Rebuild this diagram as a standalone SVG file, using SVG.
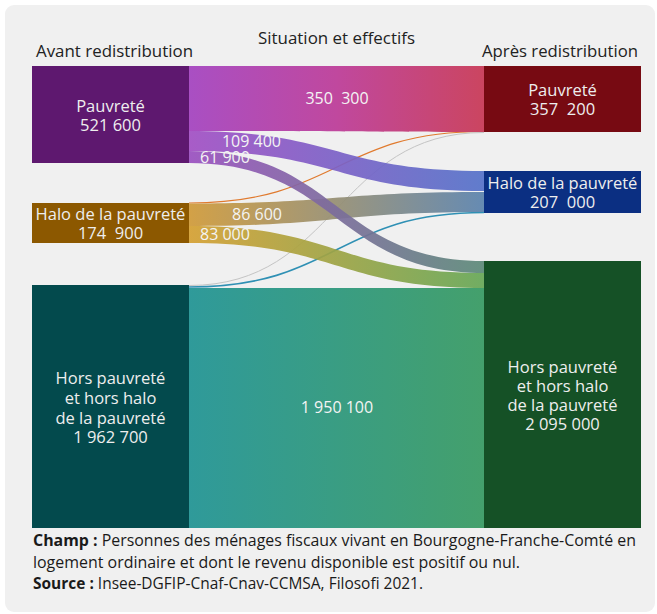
<svg xmlns="http://www.w3.org/2000/svg" width="657" height="614" viewBox="0 0 657 614">
<style>
.hdr{font-family:"Open Sans","Noto Sans",sans-serif;font-size:16.5px;fill:#222;text-anchor:middle}
.nl{font-family:"Open Sans","Noto Sans",sans-serif;font-size:16.5px;fill:#eeeeee;text-anchor:middle}
.fl{font-family:"Open Sans","Noto Sans",sans-serif;font-size:16px;fill:#f4f4f4}
.ft{font-family:"Open Sans","Noto Sans",sans-serif;font-size:15.5px;fill:#1a1a1a}
.b{font-weight:bold}
.band{opacity:0.92}
</style>
<defs>
<linearGradient id="gPP" gradientUnits="userSpaceOnUse" x1="189" y1="0" x2="484" y2="0"><stop offset="0" stop-color="#a94fc3"/><stop offset="0.5" stop-color="#c0489e"/><stop offset="1" stop-color="#cb4560"/></linearGradient>
<linearGradient id="gPH" gradientUnits="userSpaceOnUse" x1="189" y1="0" x2="484" y2="0"><stop offset="0" stop-color="#a24fc4"/><stop offset="1" stop-color="#5472c9"/></linearGradient>
<linearGradient id="gPN" gradientUnits="userSpaceOnUse" x1="189" y1="0" x2="484" y2="0"><stop offset="0" stop-color="#9a4fc0"/><stop offset="1" stop-color="#5c8a78"/></linearGradient>
<linearGradient id="gHH" gradientUnits="userSpaceOnUse" x1="189" y1="0" x2="484" y2="0"><stop offset="0" stop-color="#d09a38"/><stop offset="1" stop-color="#5a82ad"/></linearGradient>
<linearGradient id="gHN" gradientUnits="userSpaceOnUse" x1="189" y1="0" x2="484" y2="0"><stop offset="0" stop-color="#d5a032"/><stop offset="1" stop-color="#66a756"/></linearGradient>
<linearGradient id="gNN" gradientUnits="userSpaceOnUse" x1="189" y1="0" x2="484" y2="0"><stop offset="0" stop-color="#2f9a9a"/><stop offset="1" stop-color="#44a06c"/></linearGradient>
</defs>
<rect x="5" y="5" width="650" height="607" rx="9" fill="#f0f0f0"/>
<g id="headers">
<text class="hdr" x="114.5" y="57" textLength="157" lengthAdjust="spacingAndGlyphs">Avant redistribution</text>
<text class="hdr" x="336.5" y="44" textLength="157" lengthAdjust="spacingAndGlyphs">Situation et effectifs</text>
<text class="hdr" x="560" y="57" textLength="156" lengthAdjust="spacingAndGlyphs">Après redistribution</text>
</g>
<g id="connectors">
<path d="M189,288 C336.5,288 336.5,288 484,288 L484,528 L189,528 Z" fill="url(#gNN)"/>
<path d="M189,203 C336.5,203 336.5,131.5 484,131.5" fill="none" stroke="#e07a2e" stroke-width="1.2"/>
<path d="M189,285.5 C336.5,285.5 336.5,132.5 484,132.5" fill="none" stroke="#c4c4c4" stroke-width="1"/>
<path d="M189,287 C336.5,287 336.5,212.5 484,212.5" fill="none" stroke="#2f90b4" stroke-width="1.6"/>
<path d="M189,66 L484,66 L484,132 C336.5,132 336.5,131 189,131 Z" fill="url(#gPP)"/>
<path class="band" d="M189,203.5 C336.5,203.5 336.5,192 484,192 L484,212 C336.5,212 336.5,226 189,226 Z" fill="url(#gHH)"/>
<path class="band" d="M189,226 C336.5,226 336.5,273 484,273 L484,288 C336.5,288 336.5,243 189,243 Z" fill="url(#gHN)"/>
<path class="band" d="M189,151 C336.5,151 336.5,261 484,261 L484,273 C336.5,273 336.5,163 189,163 Z" fill="url(#gPN)"/>
<path class="band" d="M189,131 C336.5,131 336.5,171 484,171 L484,191 C336.5,191 336.5,151 189,151 Z" fill="url(#gPH)"/>
<text class="fl" x="337" y="104" text-anchor="middle" xml:space="preserve">350  300</text>
<text class="fl" x="251.5" y="147" text-anchor="middle">109 400</text>
<text class="fl" x="200" y="163">61 900</text>
<text class="fl" x="257" y="220" text-anchor="middle">86 600</text>
<text class="fl" x="200" y="240">83 000</text>
<text class="fl" x="337" y="413" text-anchor="middle">1 950 100</text>
</g>
<g id="node-left-pauvrete">
<rect x="32" y="66" width="157" height="97" fill="#5e186f"/>
<text class="nl" x="110.5" y="112">Pauvreté</text>
<text class="nl" x="110.5" y="131">521 600</text>
</g>
<g id="node-left-halo">
<rect x="32" y="203" width="157" height="40" fill="#8c5800"/>
<text class="nl" x="110.5" y="220">Halo de la pauvreté</text>
<text class="nl" x="110.5" y="239" xml:space="preserve">174  900</text>
</g>
<g id="node-left-hors">
<rect x="32" y="285" width="157" height="243" fill="#034a4d"/>
<text class="nl" x="110.5" y="384">Hors pauvreté</text>
<text class="nl" x="110.5" y="404">et hors halo</text>
<text class="nl" x="110.5" y="424">de la pauvreté</text>
<text class="nl" x="110.5" y="443">1 962 700</text>
</g>
<g id="node-right-pauvrete">
<rect x="484" y="66" width="157" height="66" fill="#770a12"/>
<text class="nl" x="562.5" y="96">Pauvreté</text>
<text class="nl" x="562.5" y="115" xml:space="preserve">357  200</text>
</g>
<g id="node-right-halo">
<rect x="484" y="171" width="157" height="42" fill="#0b2f82"/>
<text class="nl" x="562.5" y="189">Halo de la pauvreté</text>
<text class="nl" x="562.5" y="208" xml:space="preserve">207  000</text>
</g>
<g id="node-right-hors">
<rect x="484" y="261" width="157" height="267" fill="#155126"/>
<text class="nl" x="562.5" y="373">Hors pauvreté</text>
<text class="nl" x="562.5" y="392">et hors halo</text>
<text class="nl" x="562.5" y="411">de la pauvreté</text>
<text class="nl" x="562.5" y="430">2 095 000</text>
</g>
<g id="footer">
<text class="ft" x="33" y="546" textLength="603" lengthAdjust="spacingAndGlyphs"><tspan class="b">Champ :</tspan> Personnes des ménages fiscaux vivant en Bourgogne-Franche-Comté en</text>
<text class="ft" x="33" y="568" textLength="487" lengthAdjust="spacingAndGlyphs">logement ordinaire et dont le revenu disponible est positif ou nul.</text>
<text class="ft" x="33" y="589" textLength="390" lengthAdjust="spacingAndGlyphs"><tspan class="b">Source :</tspan> Insee-DGFIP-Cnaf-Cnav-CCMSA, Filosofi 2021.</text>
</g>
</svg>
